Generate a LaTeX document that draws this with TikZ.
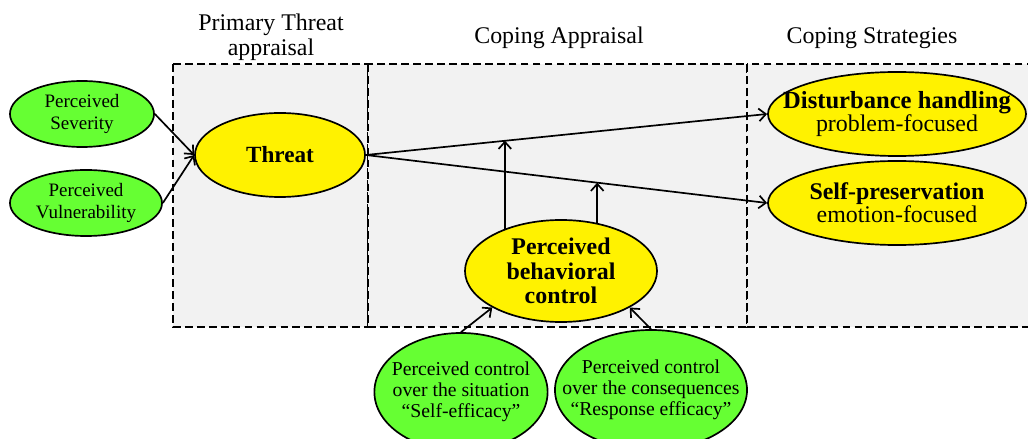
\documentclass[tikz,border=0pt]{standalone}
\usepackage{fontspec}
\setmainfont{Liberation Serif}
\usepackage{xcolor}
\usepackage{tikz}
\usetikzlibrary{shapes.geometric,arrows.meta}

\definecolor{factgreen}{RGB}{102,255,51}
\definecolor{boxgray}{RGB}{242,242,242}

\tikzset{
    stagebox/.style={draw,fill=boxgray,line width=1.3pt,dash pattern=on 5.5pt off 3pt},
    factor/.style={ellipse,draw,fill=factgreen,line width=1.2pt,inner xsep=-40pt,inner ysep=-25pt,align=center,
        font=\fontsize{13.5}{15}\selectfont},
    construct/.style={ellipse,draw,fill=yellow,line width=1.2pt,inner xsep=-40pt,inner ysep=-25pt,align=center,
        font=\fontsize{16.5}{16.5}\selectfont},
    heading/.style={align=center,font=\fontsize{17}{18}\selectfont},
    arr/.style={-{Straight Barb[length=5pt,width=9pt]},line width=1.2pt}
}

\begin{document}
\begin{tikzpicture}[x=0.025cm,y=-0.025cm]
        \useasboundingbox (0,0) rectangle (1028,439);

        % stages
        \draw[stagebox] (173,64) rectangle (368,327);
        \draw[stagebox] (368,64) rectangle (747,327);
        \draw[stagebox] (747,64) rectangle (1040,327);

        \node[heading] (hprim) at (271,37) {Primary Threat\\appraisal};
        \node[heading] (happr) at (559,38) {Coping Appraisal};
        \node[heading] (hstrat) at (872,38) {Coping Strategies};

        % threat appraisal
        \node[factor,minimum width=3.6cm,minimum height=1.65cm] (sev) at (82,114) {Perceived\\Severity};
        \node[factor,minimum width=3.8cm,minimum height=1.65cm] (vul) at (86,203) {Perceived\\Vulnerability};
        \node[construct,minimum width=4.25cm,minimum height=2.1cm] (threat) at (280,155) {\textbf{Threat}};

        % strategies
        \node[construct,minimum width=6.45cm,minimum height=2.1cm,font=\fontsize{17}{16.5}\selectfont] (dist) at (897,114) {\textbf{\fontsize{17.5}{16.5}\selectfont Disturbance handling}\\problem-focused};
        \node[construct,minimum width=6.45cm,minimum height=2.1cm,font=\fontsize{17}{16.5}\selectfont] (self) at (897,203) {\textbf{Self-preservation}\\emotion-focused};

        % coping appraisal
        \node[construct,minimum width=4.8cm,minimum height=2.55cm,font=\fontsize{17}{17.5}\selectfont\bfseries] (pbc) at (561,271) {Perceived\\behavioral\\control};
        \node[factor,minimum width=4.33cm,minimum height=2.95cm,font=\fontsize{14}{15}\selectfont] (sit) at (461,392) {Perceived control\\over the situation\\``Self-efficacy''};
        \node[factor,minimum width=4.8cm,minimum height=3cm,font=\fontsize{14}{15}\selectfont] (resp) at (651,390) {Perceived control\\over the consequences\\``Response efficacy''};

        % connectors
        \draw[arr] (sev.east) -- (threat.west);
        \draw[arr] (vul.east) -- (threat.west);
        \draw[arr] (threat.east) -- node[coordinate,pos=0.35] (m1) {} (dist.west);
        \draw[arr] (threat.east) -- node[coordinate,pos=0.576] (m2) {} (self.west);
        \draw[arr] (pbc.143) -- (pbc.143 |- m1);
        \draw[arr] (pbc.53) -- (pbc.53 |- m2);
        \draw[arr] (sit.north) -- (pbc.208);
        \draw[arr] (resp.north) -- (pbc.332);
\end{tikzpicture}
\end{document}
